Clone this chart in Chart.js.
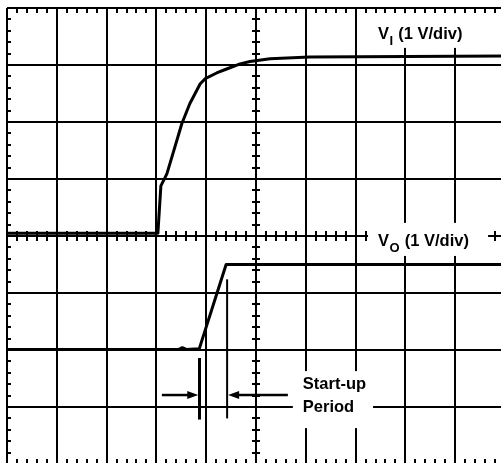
<!DOCTYPE html>
<html><head><meta charset="utf-8">
<style>html,body{margin:0;padding:0;overflow:hidden;background:#fff;width:501px;height:463px}canvas{display:block}</style>
<script src="https://cdn.jsdelivr.net/npm/chart.js@4/dist/chart.umd.min.js"></script>
</head><body><canvas id="c" width="512" height="472"></canvas>
<script>
// Horizontal divisions (time) and vertical divisions (1 V/div), 0 = screen centre
const xDivs = [0,1,2,3,4,5,6,7,8,9,10];
const yDivs = [-4,-3,-2,-1,0,1,2,3,4];
// Input voltage trace V_I (in divisions)
const viX = [0, 3.03, 3.09, 3.21, 3.33, 3.51, 3.67, 3.88, 3.98, 4.21, 4.41, 4.68, 4.88, 5.28, 6.08, 10];
const viY = [0.05, 0.05, 0.88, 1.09, 1.44, 1.97, 2.32, 2.67, 2.76, 2.86, 2.93, 3.02, 3.06, 3.11, 3.14, 3.16];
// Output voltage trace V_O (in divisions)
const voX = [0, 3.45, 3.52, 3.6, 3.86, 4.40, 10];
const voY = [-1.99, -1.99, -1.96, -1.99, -1.98, -0.50, -0.50];

const labelFont = 'bold 16.5px "Liberation Sans", Arial, sans-serif';
const subFont = 'bold 13px "Liberation Sans", Arial, sans-serif';

const scope = {
  id: 'scope',
  beforeDatasetsDraw(chart) {
    const {ctx, chartArea: a, scales: {x, y}} = chart;
    ctx.save();
    ctx.strokeStyle = '#000'; ctx.lineWidth = 2;
    ctx.beginPath();
    const y0 = Math.round(y.getPixelForValue(0));
    const x5 = Math.round(x.getPixelForValue(5));
    for (let i = 0; i <= 50; i++) {
      const px = Math.round(x.getPixelForValue(i / 5));
      ctx.moveTo(px, a.top); ctx.lineTo(px, a.top + 5);
      ctx.moveTo(px, a.bottom - 5); ctx.lineTo(px, a.bottom);
      ctx.moveTo(px, y0 - 5); ctx.lineTo(px, y0 + 5);
    }
    for (let i = 0; i <= 40; i++) {
      const py = Math.round(y.getPixelForValue(-4 + i / 5));
      ctx.moveTo(a.left, py); ctx.lineTo(a.left + 4, py);
      ctx.moveTo(x5 - 4, py); ctx.lineTo(x5 + 4, py);
    }
    ctx.stroke();
    ctx.restore();
  },
  afterDatasetsDraw(chart) {
    const {ctx, scales: {x, y}} = chart;
    const X = v => x.getPixelForValue(v), Y = v => y.getPixelForValue(v);
    ctx.save();
    ctx.fillStyle = '#fff';
    // label backgrounds
    const boxes = [[7.31, 3.91, 9.29, 3.3], [7.25, 0.23, 9.66, -0.35], [5.74, -2.37, 7.35, -3.37]];
    boxes.forEach(b => ctx.fillRect(X(b[0]), Y(b[1]), X(b[2]) - X(b[0]), Y(b[3]) - Y(b[1])));
    ctx.fillStyle = '#000';
    ctx.textBaseline = 'alphabetic';
    function vlabel(xv, yv, sub, rest) {
      let px = X(xv), py = Y(yv);
      ctx.font = labelFont; ctx.fillText('V', px, py); px += ctx.measureText('V').width;
      ctx.font = subFont; ctx.fillText(sub, px + 0.5, py + 6); px += ctx.measureText(sub).width + 1;
      ctx.font = labelFont; ctx.fillText(rest, px, py);
    }
    vlabel(7.45, 3.46, 'I', ' (1 V/div)');
    vlabel(7.45, -0.18, 'O', ' (1 V/div)');
    ctx.font = labelFont;
    ctx.fillText('Start-up', X(5.94), Y(-2.69));
    ctx.fillText('Period', X(5.94), Y(-3.08));
    // markers
    ctx.strokeStyle = '#000';
    ctx.lineWidth = 3;
    ctx.beginPath(); ctx.moveTo(X(3.865), Y(-2.14)); ctx.lineTo(X(3.865), Y(-3.22)); ctx.stroke();
    ctx.lineWidth = 2;
    ctx.beginPath(); ctx.moveTo(X(4.42), Y(-0.76)); ctx.lineTo(X(4.42), Y(-3.20)); ctx.stroke();
    function arrow(x1, x2, yv) {
      const py = Y(yv), p1 = X(x1), p2 = X(x2);
      const dir = Math.sign(p2 - p1);
      ctx.lineWidth = 2.5;
      ctx.beginPath(); ctx.moveTo(p1, py); ctx.lineTo(p2 - dir * 8, py); ctx.stroke();
      ctx.beginPath(); ctx.moveTo(p2, py); ctx.lineTo(p2 - dir * 11, py - 4); ctx.lineTo(p2 - dir * 11, py + 4); ctx.closePath(); ctx.fill();
    }
    arrow(3.11, 3.84, -2.79);
    arrow(5.64, 4.44, -2.79);
    ctx.restore();
  }
};

new Chart(document.getElementById('c'), {
  type: 'line',
  data: {
    datasets: [
      {label: 'VI', data: viX.map((v, i) => ({x: v, y: viY[i]})), borderColor: '#000', borderWidth: 3, pointRadius: 0, tension: 0, borderJoinStyle: 'round', borderCapStyle: 'round'},
      {label: 'VO', data: voX.map((v, i) => ({x: v, y: voY[i]})), borderColor: '#000', borderWidth: 3, pointRadius: 0, tension: 0, borderJoinStyle: 'round'}
    ]
  },
  options: {
    responsive: false, animation: false, devicePixelRatio: 1,
    layout: {padding: {left: 7, top: 8, right: 7, bottom: 8}},
    plugins: {legend: {display: false}, tooltip: {enabled: false}},
    scales: {
      x: {type: 'linear', min: xDivs[0], max: xDivs[xDivs.length - 1], afterBuildTicks: s => { s.ticks = xDivs.map(v => ({value: v})); },
          ticks: {display: false}, grid: {color: '#000', lineWidth: 2, drawTicks: false}, border: {display: false}},
      y: {type: 'linear', min: yDivs[0], max: yDivs[yDivs.length - 1], afterBuildTicks: s => { s.ticks = yDivs.map(v => ({value: v})); },
          ticks: {display: false}, grid: {color: '#000', lineWidth: 2, drawTicks: false}, border: {display: false}}
    }
  },
  plugins: [scope]
});
</script></body></html>
